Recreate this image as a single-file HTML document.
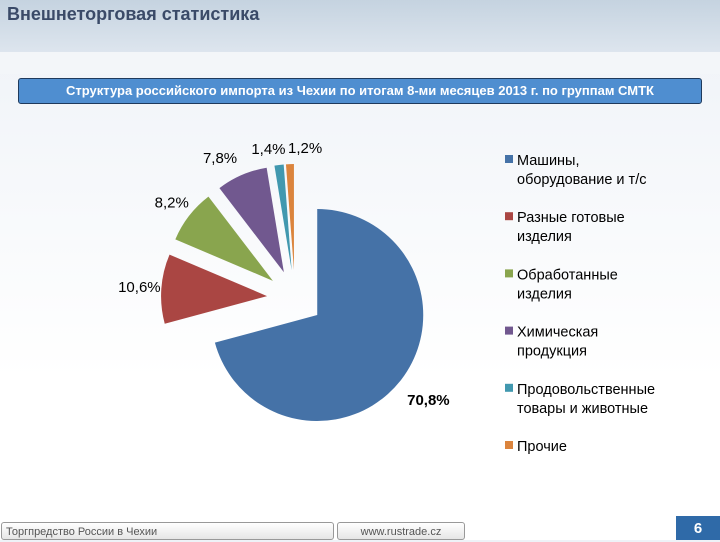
<!DOCTYPE html>
<html><head><meta charset="utf-8"><style>
body{margin:0;width:720px;height:540px;overflow:hidden;font-family:"Liberation Sans","Noto Sans CJK SC",sans-serif;background:linear-gradient(#eef2f7,#ffffff 70%);position:relative}
.abs{position:absolute}
</style></head><body>
<div class="abs" style="left:0;top:0;width:720px;height:52px;background:linear-gradient(#c5d3e0,#dde5ee)"></div>
<div class="abs" style="left:0;top:52px;width:720px;height:22px;background:#f3f6f9"></div>
<div class="abs" style="left:7px;top:4px;font-size:18px;font-weight:bold;color:#3a4a68">Внешнеторговая статистика</div>
<div class="abs" style="left:18px;top:78px;width:682px;height:24px;background:#4f8ed0;border:1px solid #1f3a5c;border-radius:3px;color:#fff;font-size:13px;font-weight:bold;text-align:center;line-height:24px">Структура российского импорта из Чехии по итогам 8-ми месяцев 2013 г. по группам СМТК</div>
<svg class="abs" style="left:0;top:0" width="720" height="540" id="chart"></svg>
<div class="abs" style="left:1px;top:522px;width:333px;height:18px;background:linear-gradient(#fff,#e6e6e6);border:1px solid #999;border-radius:3px;font-size:11px;color:#555;line-height:18px;padding-left:4px;box-sizing:border-box">Торгпредство России в Чехии</div>
<div class="abs" style="left:337px;top:522px;width:128px;height:18px;background:linear-gradient(#fff,#e6e6e6);border:1px solid #999;border-radius:3px;font-size:11px;color:#555;line-height:18px;text-align:center;box-sizing:border-box">www.rustrade.cz</div>
<div class="abs" style="left:676px;top:516px;width:44px;height:24px;background:#2f6aa8;color:#fff;font-size:15px;font-weight:bold;line-height:26px;text-align:center">6</div>
<script>
const categories=["Машины, оборудование и т/с","Разные готовые изделия","Обработанные изделия","Химическая продукция","Продовольственные товары и животные","Прочие"];
const values=[70.8,10.6,8.2,7.8,1.4,1.2];
const valueLabels=["70,8%","10,6%","8,2%","7,8%","1,4%","1,2%"];
const legendLines=[["Машины,","оборудование и т/с"],["Разные готовые","изделия"],["Обработанные","изделия"],["Химическая","продукция"],["Продовольственные","товары и животные"],["Прочие"]];
const colors=["#4572a7","#aa4643","#89a54e","#71588f","#4198af","#db843d"];
const svg=document.getElementById('chart');const NS="http://www.w3.org/2000/svg";
const cx=295,cy=298,R=106,ex=28;
const total=values.reduce((a,b)=>a+b,0);
function pt(a,r,ox,oy){return [ox+r*Math.sin(a),oy-r*Math.cos(a)];}
let acc=0;
values.forEach((v,i)=>{
 const a0=acc/total*2*Math.PI;acc+=v;const a1=acc/total*2*Math.PI;const am=(a0+a1)/2;
 const [ox,oy]=pt(am,ex,cx,cy);
 const p0=pt(a0,R,ox,oy),p1=pt(a1,R,ox,oy);
 const p=document.createElementNS(NS,'path');
 p.setAttribute('d',`M${ox},${oy}L${p0[0]},${p0[1]}A${R},${R} 0 ${a1-a0>Math.PI?1:0} 1 ${p1[0]},${p1[1]}Z`);
 p.setAttribute('fill',colors[i]);
 
 
 svg.appendChild(p);
 let lr=R+ex+(i===0?34:22);
 let [lx,ly]=pt(am,lr,cx,cy);
 if(i===3){lx-=13;ly+=3;}
 if(i===4){lx-=8;ly+=6;}
 if(i===5){lx+=16;ly+=6;}
 const t=document.createElementNS(NS,'text');
 t.setAttribute('x',lx);t.setAttribute('y',ly+5);
 t.setAttribute('text-anchor','middle');t.setAttribute('font-size','15');
 if(i===0)t.setAttribute('font-weight','bold');
 t.setAttribute('fill','#000');
 t.textContent=valueLabels[i];
 
 
 svg.appendChild(t);
});
legendLines.forEach((lines,i)=>{
 const y=160+i*57.2;
 const r=document.createElementNS(NS,'rect');
 r.setAttribute('x',505);r.setAttribute('y',y-5);r.setAttribute('width',8);r.setAttribute('height',8);r.setAttribute('fill',colors[i]);
 
 
 svg.appendChild(r);
 lines.forEach((ln,j)=>{
  const t=document.createElementNS(NS,'text');
  t.setAttribute('x',517);t.setAttribute('y',y+5+j*19);t.setAttribute('font-size','14.5');t.setAttribute('fill','#000');
  t.textContent=ln;
  
  
  svg.appendChild(t);
 });
});
</script>
</body></html>
